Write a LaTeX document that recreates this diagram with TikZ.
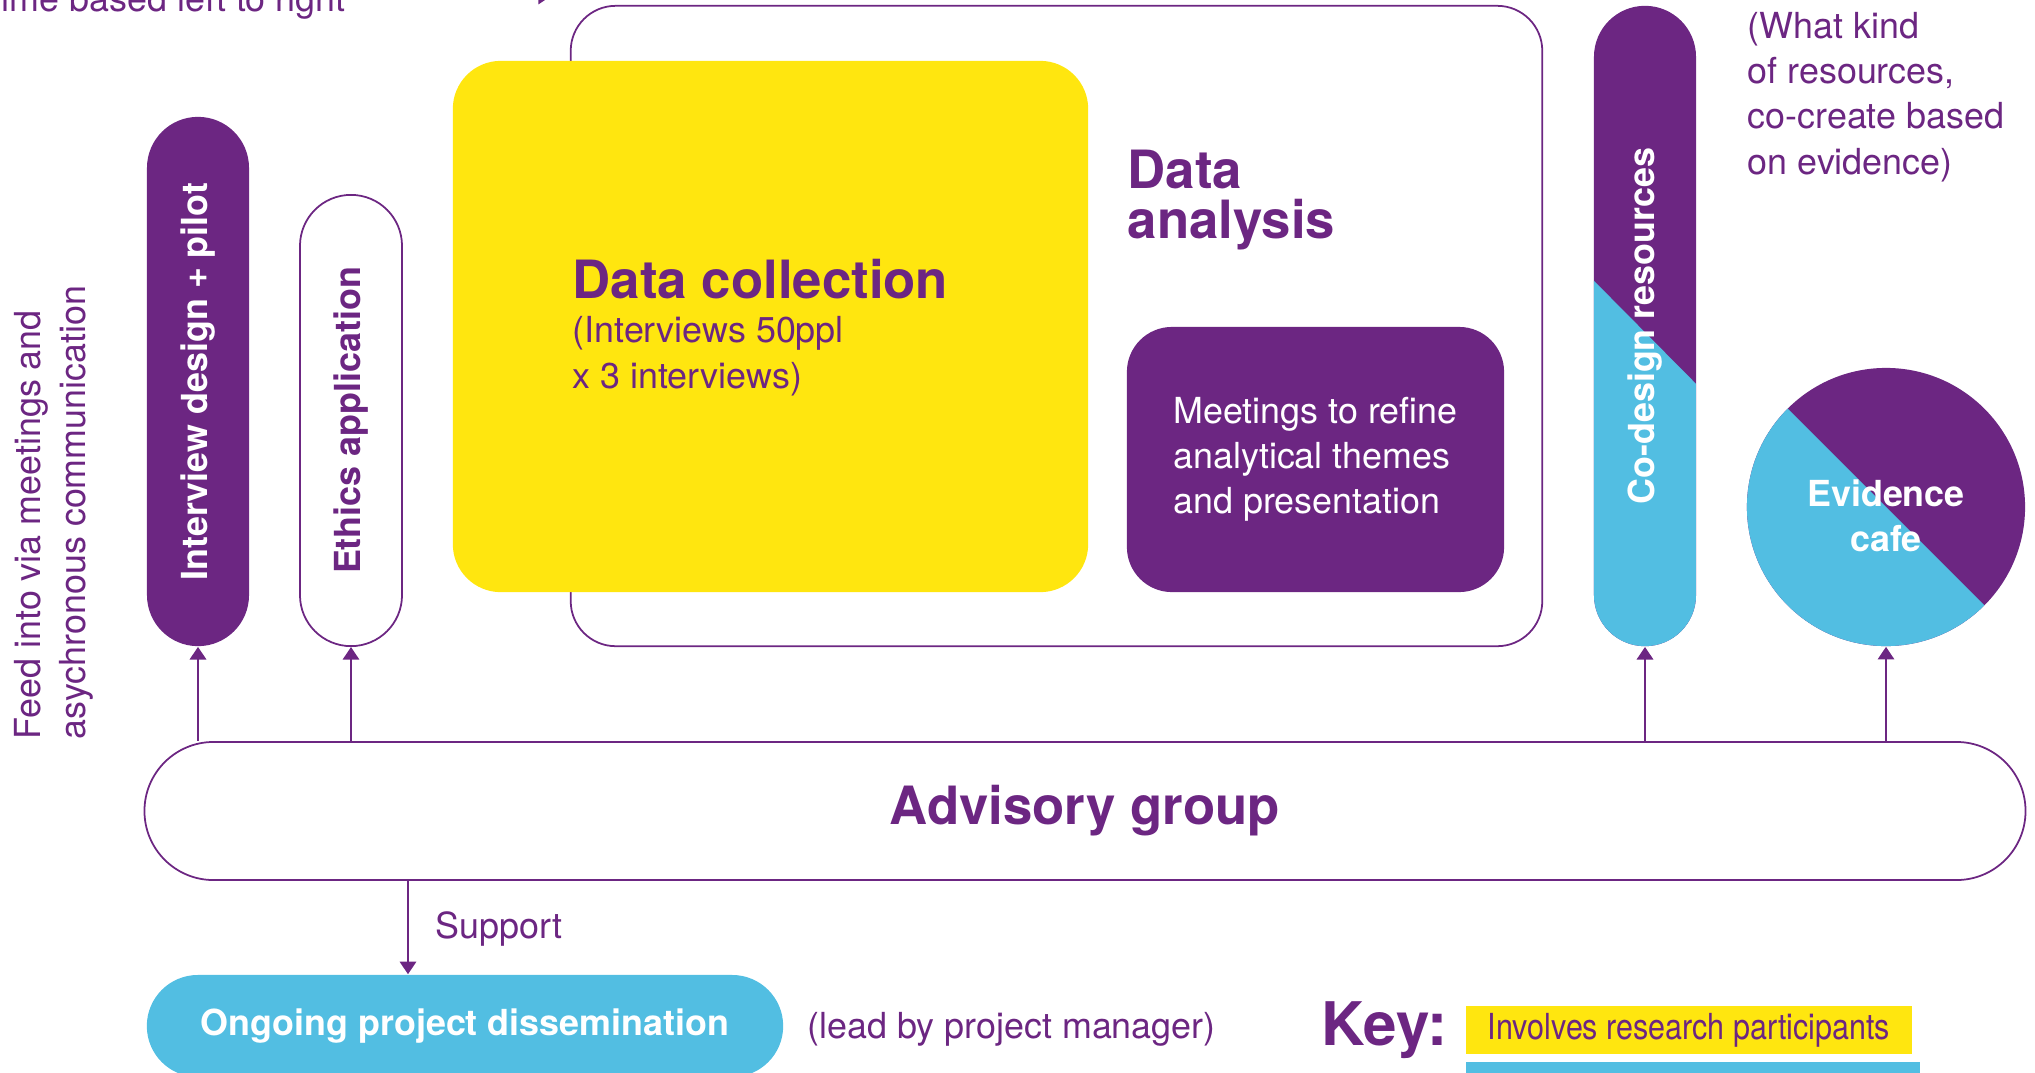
\documentclass[tikz,border=0pt]{standalone}
\usepackage{fontspec}
\setmainfont{TeX Gyre Heros}
\usepackage{graphicx}
\usetikzlibrary{arrows.meta,calc}
\definecolor{plum}{RGB}{108,38,130}
\definecolor{sun}{RGB}{255,230,15}
\definecolor{sky}{RGB}{82,190,226}
\newcommand\txtfont{\fontsize{10.2}{12.8}\selectfont}
\newcommand\lblfont{\fontsize{10.2}{12.8}\selectfont\bfseries}
\newcommand\hdfont{\fontsize{15}{14}\selectfont\bfseries}
\newcommand\keyfont{\fontsize{17.1}{18}\selectfont\bfseries}

\begin{document}
\begin{tikzpicture}[x=0.01cm,y=-0.01cm,
  every node/.style={inner sep=0pt,font=\txtfont,text=plum},
  pill/.style={draw=none,rounded corners=0.51cm,minimum width=1.02cm},
  arr/.style={plum,line width=0.8pt,-{Triangle[length=3.6pt,width=4.6pt]}}]
\useasboundingbox (0,0) rectangle (2035,1072);
\clip (0,0) rectangle (2035,1072);
% time line (cut at the top)
\node[anchor=base east] (time) at (346,11) {Time based left to right};
\coordinate (tnow) at (551,-4);
\draw[arr] (time.east |- tnow) ++(25,0) -- (tnow);
\node[rotate=90,anchor=north west,align=left] (feed) at (14,740) {Feed into via meetings and\\asychronous communication};
% first steps
\node[pill,fill=plum,minimum height=5.29cm,text=white,font=\lblfont] (ipilot) at (198,381.5) {\rotatebox{90}{Interview design + pilot}};
\node[pill,draw=plum,fill=white,line width=0.5pt,minimum height=4.51cm,font=\lblfont] (ethics) at (351,420.5) {\rotatebox{90}{Ethics application}};
% data analysis frame
\node[draw=plum,line width=0.5pt,rounded corners=0.45cm,minimum width=9.71cm,minimum height=6.4cm] (frame) at (1056.5,326) {};
\node[anchor=base west,align=left,font=\hdfont] (anal) at (1127,238) {Data\\analysis};
% data collection
\node[fill=sun,rounded corners=0.48cm,minimum width=6.35cm,minimum height=5.31cm] (collect) at (770.5,326.5) {};
\node[anchor=base west,font=\hdfont] (colltitle) at (572,298) {Data collection};
\node[anchor=base west,align=left] (colltxt) at (572,388) {(Interviews 50ppl\\x 3 interviews)};
\node[fill=plum,rounded corners=0.45cm,minimum width=3.77cm,minimum height=2.65cm,text=white,align=left] (meet) at (1315.5,459.5) {Meetings to refine\\analytical themes\\and presentation};
% co-design + evidence cafe
\node[pill,fill=plum,minimum height=6.4cm,text=white,font=\lblfont,
  path picture={\fill[sky,sharp corners] ($(path picture bounding box.north west)+(0,275)$) -- ($(path picture bounding box.north east)+(0,378)$) -- (path picture bounding box.south east) -- (path picture bounding box.south west) -- cycle;}] (codes) at (1645,326) {\rotatebox{90}{Co-design resources}};
\node[anchor=base west,align=left] (kind) at (1747,174) {(What kind\\of resources,\\co-create based\\on evidence)};
\node[circle,fill=plum,minimum size=2.78cm,
  path picture={\fill[sky,sharp corners] ($(path picture bounding box.center)+(-200,-200)$) -- ($(path picture bounding box.center)+(200,200)$) -- ($(path picture bounding box.center)+(-200,200)$) -- cycle;}] (cafe) at (1886,507) {};
\node[text=white,font=\lblfont,align=center] (cafetxt) at ($(cafe)+(0,9)$) {Evidence\\cafe};
% advisory group
\node[draw=plum,line width=0.5pt,rounded corners=0.69cm,minimum width=18.8cm,minimum height=1.38cm,font=\hdfont] (adv) at (1085,811) {Advisory group};
\foreach \n in {ipilot,ethics,codes,cafe}
  \draw[arr] (adv.north -| \n.south) -- (\n.south);
% dissemination
\node[pill,fill=sky,minimum width=6.36cm,minimum height=1.02cm,text=white,font=\lblfont] (diss) at (465,1026) {Ongoing project dissemination};
\coordinate (sup) at (408,880);
\draw[arr] (sup) -- (sup |- diss.north);
\node[anchor=base west] (suptxt) at (435,938) {Support};
\node[anchor=base west] (lead) at (807,1038) {(lead by project manager)};
% key
\node[anchor=base west,font=\keyfont] (key) at (1321,1045) {Key:};
\node[fill=sun,minimum width=4.46cm,minimum height=0.48cm] (keyy) at (1689,1030) {\scalebox{0.85}[1]{Involves research participants}};
\node[fill=sky,minimum width=4.54cm,minimum height=0.28cm] (keyb) at (1693,1076) {};
\end{tikzpicture}
\end{document}
